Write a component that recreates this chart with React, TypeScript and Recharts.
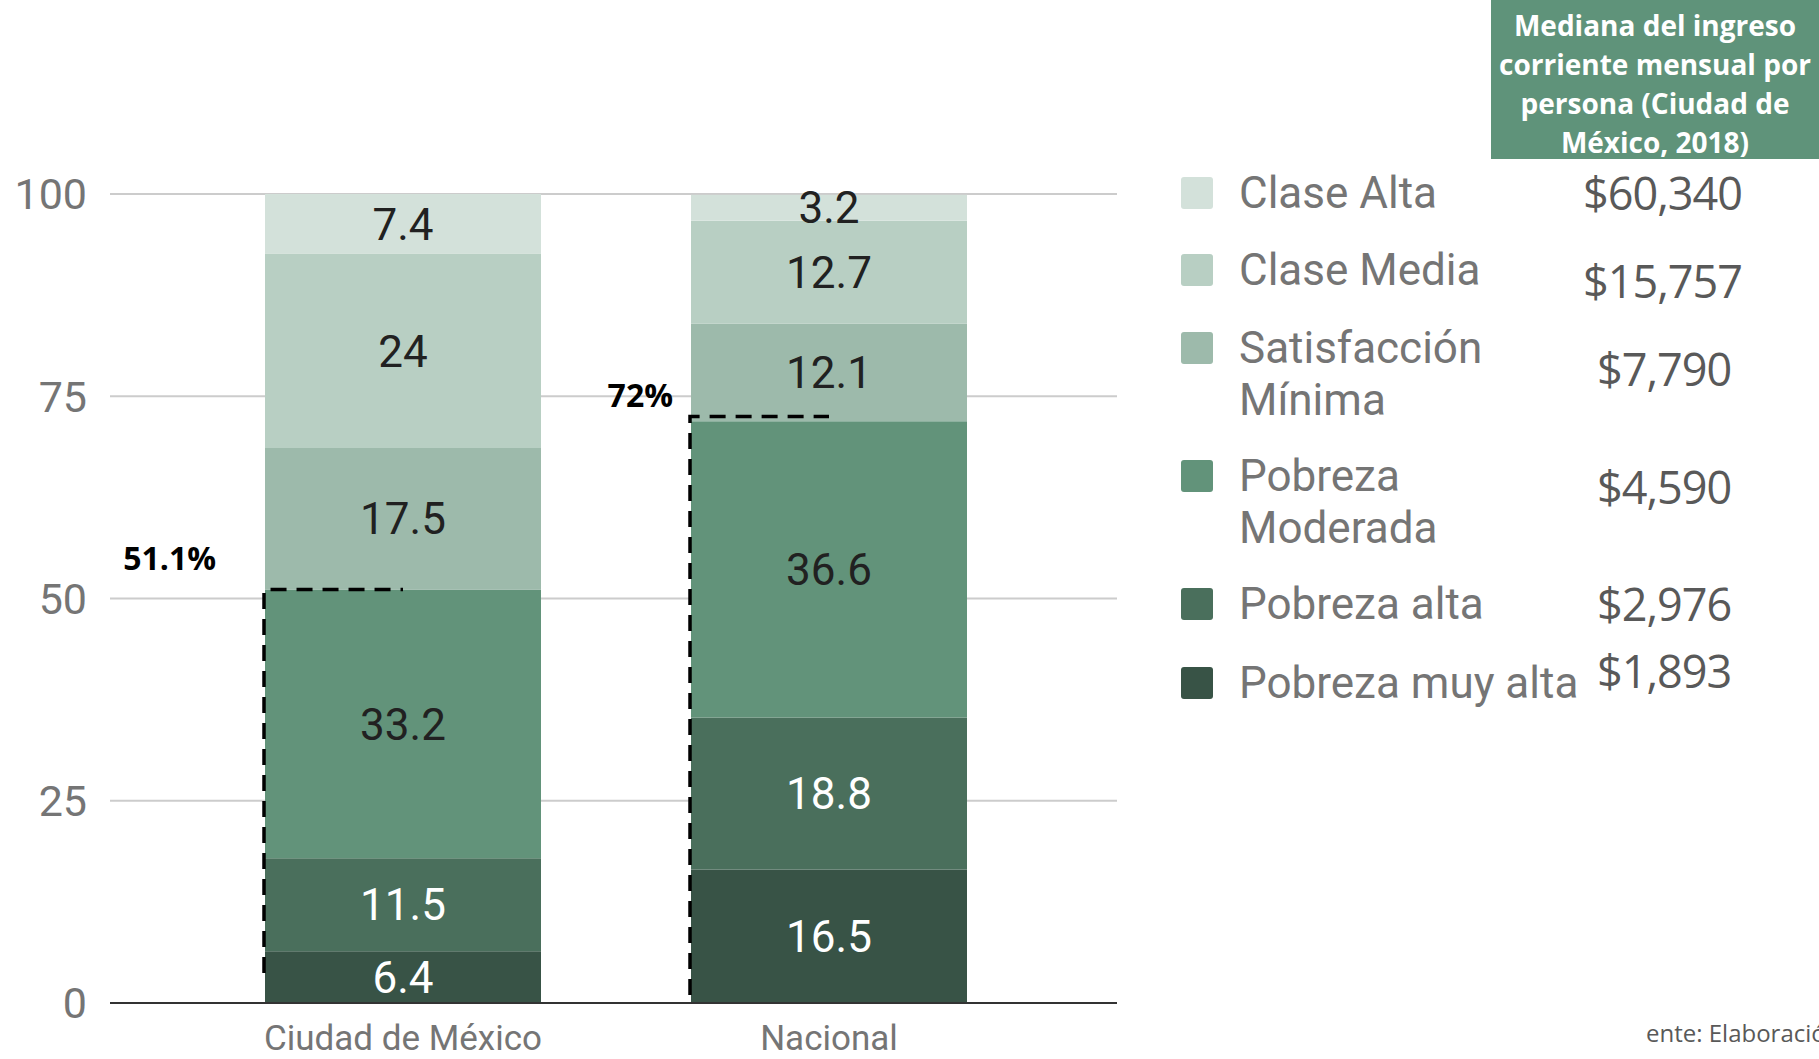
import { Bar, BarChart, CartesianGrid, LabelList, XAxis, YAxis } from "recharts";

// categorías y series (porcentajes de población)
const CATEGORIES = ["Ciudad de México", "Nacional"];
const MUY_ALTA = [6.4, 16.5];
const ALTA = [11.5, 18.8];
const MODERADA = [33.2, 36.6];
const SATISFACCION = [17.5, 12.1];
const MEDIA = [24, 12.7];
const CLASE_ALTA = [7.4, 3.2];

const Y_TICKS = [0, 25, 50, 75, 100];

// anotaciones: umbral de pobreza y fin del corchete punteado
const THRESHOLDS = [51.1, 72];
const THRESHOLD_LABELS = ["51.1%", "72%"];
const BRACKET_BOTTOM = [3.7, 1];

// leyenda, de arriba hacia abajo
const LEGEND_NAMES = [
    ["Clase Alta"],
    ["Clase Media"],
    ["Satisfacción", "Mínima"],
    ["Pobreza", "Moderada"],
    ["Pobreza alta"],
    ["Pobreza muy alta"],
];
const INCOME = ["$60,340", "$15,757", "$7,790", "$4,590", "$2,976", "$1,893"];

const KEYS = ["muyAlta", "alta", "moderada", "satisfaccion", "media", "claseAlta"];
const COLORS = ["#385346", "#4a6f5c", "#62937a", "#9dbaab", "#b8cfc3", "#d3e1da"];
const LABEL_COLORS = ["#ffffff", "#ffffff", "#212121", "#212121", "#212121", "#212121"];
const LEGEND_COLORS = [...COLORS].reverse();

const data = CATEGORIES.map((name, i) => ({
    name,
    muyAlta: MUY_ALTA[i],
    alta: ALTA[i],
    moderada: MODERADA[i],
    satisfaccion: SATISFACCION[i],
    media: MEDIA[i],
    claseAlta: CLASE_ALTA[i],
}));

// layout
const LEGEND_Y = [193, 270, 348, 476, 604, 683];
const INCOME_Y = [193, 281, 369, 487, 604, 671];
const INCOME_X = [1583, 1583, 1597, 1597, 1597, 1597];
const NOTE_DX = [49, 18];
const NOTE_DY = [32, 22];
const NOTE_LIFT = [0, 4];

// segmento superior: dibuja también el corchete punteado y la etiqueta del umbral
function TopShape(props: any) {
    const { x, y, width, height, fill, payload } = props;
    const i = CATEGORIES.indexOf(payload.name);
    const below = KEYS.slice(0, 5).reduce((s, k) => s + payload[k], 0);
    const ppu = height / payload.claseAlta;
    const base = y + height;
    const toPx = (v: number) => base - (v - below) * ppu;
    const ty = toPx(THRESHOLDS[i]) - NOTE_LIFT[i];
    const by = toPx(BRACKET_BOTTOM[i]);
    return (
        <g>
            <rect x={x} y={y} width={width} height={height} fill={fill} />
            <path
                d={`M${x - 1},${by} V${ty} H${x + width * 0.5}`}
                stroke="#000"
                strokeWidth={3.5}
                strokeDasharray="16 10"
                fill="none"
            />
            <text
                x={x - NOTE_DX[i]}
                y={ty - NOTE_DY[i]}
                textAnchor="end"
                dominantBaseline="central"
                fontFamily="'Open Sans', sans-serif"
                fontWeight={700}
                fontSize={32}
                fill="#000"
            >
                {THRESHOLD_LABELS[i]}
            </text>
        </g>
    );
}

export default function App() {
    return (
        <div
            style={{
                position: "absolute",
                left: 0,
                top: 0,
                width: 1819,
                height: 1059,
                overflow: "hidden",
                background: "#fff",
                fontFamily: "Roboto, sans-serif",
            }}
        >
            <BarChart
                width={1819}
                height={1059}
                data={data}
                margin={{ top: 194, right: 702, bottom: 0, left: 0 }}
            >
                <CartesianGrid vertical={false} stroke="#cccccc" strokeWidth={2} />
                <XAxis
                    dataKey="name"
                    height={56}
                    padding={{ left: 80, right: 75 }}
                    tickLine={false}
                    axisLine={{ stroke: "#333", strokeWidth: 2 }}
                    tickMargin={16}
                    tick={{ fill: "#757575", fontSize: 35, fontFamily: "Roboto, sans-serif" }}
                />
                <YAxis
                    width={110}
                    domain={[0, 100]}
                    ticks={Y_TICKS}
                    axisLine={false}
                    tickLine={false}
                    tickMargin={17}
                    tick={{ fill: "#757575", fontSize: 43, fontFamily: "Roboto, sans-serif" }}
                />
                {KEYS.map((k, i) => (
                    <Bar
                        key={k}
                        dataKey={k}
                        stackId="a"
                        fill={COLORS[i]}
                        barSize={276}
                        isAnimationActive={false}
                        shape={k === "claseAlta" ? TopShape : undefined}
                    >
                        <LabelList
                            dataKey={k}
                            position="center"
                            fill={LABEL_COLORS[i]}
                            fontSize={44}
                            fontFamily="Roboto, sans-serif"
                        />
                    </Bar>
                ))}
            </BarChart>

            {/* encabezado */}
            <div
                style={{
                    position: "absolute",
                    left: 1491,
                    top: 0,
                    width: 328,
                    height: 159,
                    background: "#5f937a",
                    color: "#fff",
                    fontFamily: "'Open Sans', sans-serif",
                    fontWeight: 700,
                    fontSize: 28,
                    lineHeight: "39px",
                    textAlign: "center",
                    paddingTop: 6,
                    boxSizing: "border-box",
                    whiteSpace: "nowrap",
                }}
            >
                Mediana del ingreso
                <br />
                corriente mensual por
                <br />
                persona (Ciudad de
                <br />
                México, 2018)
            </div>

            {/* leyenda */}
            {LEGEND_NAMES.map((lines, i) => (
                <div
                    key={lines.join(" ")}
                    style={{ position: "absolute", left: 1181, top: LEGEND_Y[i] - 26 }}
                >
                    <div
                        style={{
                            position: "absolute",
                            left: 0,
                            top: 10,
                            width: 32,
                            height: 32,
                            borderRadius: 3,
                            background: LEGEND_COLORS[i],
                        }}
                    />
                    <div
                        style={{
                            position: "absolute",
                            left: 58,
                            top: 0,
                            whiteSpace: "nowrap",
                            fontSize: 44,
                            lineHeight: "52px",
                            color: "#757575",
                        }}
                    >
                        {lines.map((l) => (
                            <div key={l}>{l}</div>
                        ))}
                    </div>
                </div>
            ))}

            {/* ingresos */}
            {INCOME.map((v, i) => (
                <div
                    key={v}
                    style={{
                        position: "absolute",
                        left: INCOME_X[i],
                        top: INCOME_Y[i] - 28,
                        fontFamily: "'Open Sans', sans-serif",
                        fontSize: 45,
                        lineHeight: "56px",
                        letterSpacing: -1,
                        color: "#595959",
                        whiteSpace: "nowrap",
                    }}
                >
                    {v}
                </div>
            ))}

            <div
                style={{
                    position: "absolute",
                    left: 1646,
                    top: 1016,
                    fontFamily: "'Open Sans', sans-serif",
                    fontSize: 24,
                    color: "#595959",
                    whiteSpace: "nowrap",
                }}
            >
                ente: Elaboración propia con datos de ENIGH
            </div>
        </div>
    );
}
